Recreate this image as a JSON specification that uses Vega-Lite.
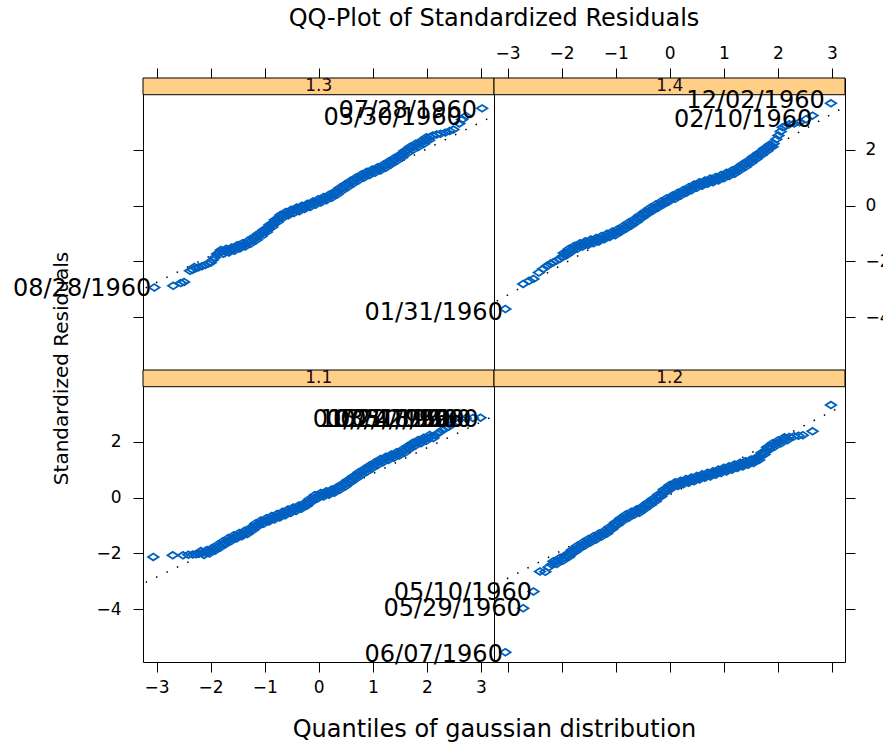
{
"$schema": "https://vega.github.io/schema/vega-lite/v6.json",
"padding": {"left": 12, "top": 6, "right": 5, "bottom": 5},
"title": {"text": "QQ-Plot of Standardized Residuals", "anchor": "middle", "frame": "group", "dx": 351, "fontSize": 24, "fontWeight": "normal", "font": "DejaVu Sans", "color": "#000", "offset": 13},
"config": {
  "font": "DejaVu Sans",
  "view": {"stroke": "#000", "strokeWidth": 1},
  "axis": {"domain": false, "grid": false, "tickColor": "#000", "tickSize": 10, "tickWidth": 1, "labelColor": "#000", "labelFontSize": 17, "labelFont": "DejaVu Sans", "titleFont": "DejaVu Sans", "titleFontWeight": "normal", "titleColor": "#000", "labelPadding": 10}
},
"datasets": {
  "strips": [
    {"p": "1.3", "x": -3.25, "x2": 3.24, "y": 3.98, "y2": 4.58},
    {"p": "1.4", "x": -3.25, "x2": 3.24, "y": 3.98, "y2": 4.58},
    {"p": "1.1", "x": -3.25, "x2": 3.24, "y": 3.98, "y2": 4.58},
    {"p": "1.2", "x": -3.25, "x2": 3.24, "y": 3.98, "y2": 4.58}
  ],
  "striptext": [
    {"p": "1.3", "x": 0, "y": 4.28},
    {"p": "1.4", "x": 0, "y": 4.28},
    {"p": "1.1", "x": 0, "y": 4.28},
    {"p": "1.2", "x": 0, "y": 4.28}
  ],
  "lines": [
    {"p": "1.3", "x": -3.2, "y": -2.95}, {"p": "1.3", "x": 3.2, "y": 3.19},
    {"p": "1.4", "x": -3.2, "y": -3.43}, {"p": "1.4", "x": 3.2, "y": 3.51},
    {"p": "1.1", "x": -3.2, "y": -3.04}, {"p": "1.1", "x": 3.2, "y": 2.90},
    {"p": "1.2", "x": -3.2, "y": -3.10}, {"p": "1.2", "x": 3.2, "y": 3.30}
  ],
  "labels": [
    {"p": "1.3", "x": -3.04, "y": -3.01, "label": "08/28/1960"},
    {"p": "1.3", "x": 2.98, "y": 3.40, "label": "07/28/1960"},
    {"p": "1.3", "x": 2.70, "y": 3.15, "label": "03/30/1960"},
    {"p": "1.4", "x": -3.03, "y": -3.86, "label": "01/31/1960"},
    {"p": "1.4", "x": 2.92, "y": 3.74, "label": "12/02/1960"},
    {"p": "1.4", "x": 2.69, "y": 3.09, "label": "02/10/1960"},
    {"p": "1.1", "x": 2.50, "y": 2.78, "label": "01/05/1960"},
    {"p": "1.1", "x": 2.63, "y": 2.78, "label": "10/24/1960"},
    {"p": "1.1", "x": 2.75, "y": 2.78, "label": "05/31/1960"},
    {"p": "1.1", "x": 2.88, "y": 2.78, "label": "03/22/1960"},
    {"p": "1.1", "x": 3.01, "y": 2.78, "label": "02/18/1960"},
    {"p": "1.2", "x": -3.03, "y": -5.65, "label": "06/07/1960"},
    {"p": "1.2", "x": -2.68, "y": -3.99, "label": "05/29/1960"},
    {"p": "1.2", "x": -2.49, "y": -3.42, "label": "05/10/1960"}
  ],
  "q13": [
    {"x":-3.04,"y":-2.94},{"x":-2.69,"y":-2.88},{"x":-2.55,"y":-2.78},{"x":-2.49,"y":-2.74},{"x":-2.38,"y":-2.34},{"x":-2.33,"y":-2.30},{"x":-2.27,"y":-2.25},{"x":-2.22,"y":-2.21},{"x":-2.16,"y":-2.18},{"x":-2.10,"y":-2.13},{"x":-2.05,"y":-2.09},{"x":-2.00,"y":-2.05},{"x":-1.96,"y":-1.95},{"x":-1.92,"y":-1.86},{"x":-1.88,"y":-1.74},{"x":-1.84,"y":-1.68},{"x":-1.79,"y":-1.66},{"x":-1.74,"y":-1.64},{"x":-1.69,"y":-1.62},{"x":-1.64,"y":-1.59},{"x":-1.59,"y":-1.56},{"x":-1.54,"y":-1.52},{"x":-1.49,"y":-1.48},{"x":-1.44,"y":-1.45},{"x":-1.39,"y":-1.41},{"x":-1.34,"y":-1.37},{"x":-1.29,"y":-1.32},{"x":-1.24,"y":-1.26},{"x":-1.19,"y":-1.19},{"x":-1.14,"y":-1.12},{"x":-1.09,"y":-1.05},{"x":-1.04,"y":-0.98},{"x":-0.99,"y":-0.91},{"x":-0.94,"y":-0.82},{"x":-0.89,"y":-0.73},{"x":-0.84,"y":-0.64},{"x":-0.79,"y":-0.55},{"x":-0.74,"y":-0.46},{"x":-0.69,"y":-0.38},{"x":-0.64,"y":-0.33},{"x":-0.59,"y":-0.29},{"x":-0.54,"y":-0.25},{"x":-0.49,"y":-0.21},{"x":-0.44,"y":-0.17},{"x":-0.39,"y":-0.13},{"x":-0.34,"y":-0.10},{"x":-0.29,"y":-0.06},{"x":-0.24,"y":-0.03},{"x":-0.19,"y":0.01},{"x":-0.14,"y":0.05},{"x":-0.09,"y":0.09},{"x":-0.04,"y":0.13},{"x":0.01,"y":0.17},{"x":0.06,"y":0.21},{"x":0.11,"y":0.25},{"x":0.16,"y":0.29},{"x":0.21,"y":0.33},{"x":0.26,"y":0.38},{"x":0.31,"y":0.45},{"x":0.36,"y":0.52},{"x":0.41,"y":0.59},{"x":0.46,"y":0.66},{"x":0.51,"y":0.72},{"x":0.56,"y":0.78},{"x":0.61,"y":0.84},{"x":0.66,"y":0.90},{"x":0.71,"y":0.96},{"x":0.76,"y":1.02},{"x":0.81,"y":1.07},{"x":0.86,"y":1.12},{"x":0.91,"y":1.16},{"x":0.96,"y":1.20},{"x":1.01,"y":1.24},{"x":1.06,"y":1.28},{"x":1.11,"y":1.32},{"x":1.16,"y":1.36},{"x":1.21,"y":1.41},{"x":1.26,"y":1.47},{"x":1.31,"y":1.53},{"x":1.36,"y":1.59},{"x":1.41,"y":1.65},{"x":1.46,"y":1.71},{"x":1.51,"y":1.77},{"x":1.56,"y":1.85},{"x":1.61,"y":1.93},{"x":1.66,"y":2.00},{"x":1.71,"y":2.06},{"x":1.76,"y":2.11},{"x":1.81,"y":2.16},{"x":1.86,"y":2.21},{"x":1.91,"y":2.26},{"x":1.96,"y":2.33},{"x":2.01,"y":2.40},{"x":2.06,"y":2.46},{"x":2.11,"y":2.52},{"x":2.18,"y":2.55},{"x":2.25,"y":2.58},{"x":2.34,"y":2.62},{"x":2.42,"y":2.68},{"x":2.49,"y":2.73},{"x":2.60,"y":2.95},{"x":2.65,"y":3.09},{"x":2.72,"y":3.22},{"x":3.02,"y":3.49},
    {"x":-2.30,"y":-2.20},{"x":-1.81,"y":-1.59},{"x":-1.76,"y":-1.73},{"x":-1.71,"y":-1.55},{"x":-1.66,"y":-1.68},{"x":-1.61,"y":-1.50},{"x":-1.56,"y":-1.62},{"x":-1.51,"y":-1.42},{"x":-1.46,"y":-1.54},{"x":-1.41,"y":-1.35},{"x":-1.36,"y":-1.47},{"x":-1.31,"y":-1.26},{"x":-1.26,"y":-1.37},{"x":-1.21,"y":-1.14},{"x":-1.16,"y":-1.24},{"x":-1.11,"y":-1.00},{"x":-1.06,"y":-1.10},{"x":-1.01,"y":-0.86},{"x":-0.96,"y":-0.95},{"x":-0.91,"y":-0.69},{"x":-0.86,"y":-0.77},{"x":-0.81,"y":-0.51},{"x":-0.76,"y":-0.59},{"x":-0.71,"y":-0.34},{"x":-0.66,"y":-0.44},{"x":-0.61,"y":-0.23},{"x":-0.56,"y":-0.35},{"x":-0.51,"y":-0.15},{"x":-0.46,"y":-0.27},{"x":-0.41,"y":-0.07},{"x":-0.36,"y":-0.20},{"x":-0.31,"y":0.00},{"x":-0.26,"y":-0.12},{"x":-0.21,"y":0.07},{"x":-0.16,"y":-0.05},{"x":-0.11,"y":0.15},{"x":-0.06,"y":0.03},{"x":-0.01,"y":0.23},{"x":0.04,"y":0.11},{"x":0.09,"y":0.31},{"x":0.14,"y":0.19},{"x":0.19,"y":0.39},{"x":0.24,"y":0.28},{"x":0.29,"y":0.50},{"x":0.34,"y":0.40},{"x":0.39,"y":0.64},{"x":0.44,"y":0.54},{"x":0.49,"y":0.77},{"x":0.54,"y":0.67},{"x":0.59,"y":0.89},{"x":0.64,"y":0.79},{"x":0.69,"y":1.01},{"x":0.74,"y":0.91},{"x":0.79,"y":1.12},{"x":0.84,"y":1.01},{"x":0.89,"y":1.22},{"x":0.94,"y":1.10},{"x":0.99,"y":1.30},{"x":1.04,"y":1.18},{"x":1.09,"y":1.38},{"x":1.14,"y":1.26},{"x":1.19,"y":1.47},{"x":1.24,"y":1.36},{"x":1.29,"y":1.58},{"x":1.34,"y":1.48},{"x":1.39,"y":1.70},{"x":1.44,"y":1.60},{"x":1.49,"y":1.82},{"x":1.54,"y":1.73},{"x":1.59,"y":1.97},{"x":1.64,"y":1.88},{"x":1.69,"y":2.11},{"x":1.74,"y":2.00},{"x":1.79,"y":2.22},{"x":1.84,"y":2.10},{"x":1.89,"y":2.32},{"x":1.94,"y":2.21},{"x":1.99,"y":2.45},{"x":2.04,"y":2.35}
  ],
  "q14": [
    {"x":-3.04,"y":-3.71},{"x":-2.71,"y":-2.81},{"x":-2.60,"y":-2.70},{"x":-2.52,"y":-2.63},{"x":-2.42,"y":-2.40},{"x":-2.34,"y":-2.27},{"x":-2.27,"y":-2.17},{"x":-2.21,"y":-2.09},{"x":-2.15,"y":-2.03},{"x":-2.09,"y":-1.97},{"x":-2.03,"y":-1.91},{"x":-1.98,"y":-1.82},{"x":-1.93,"y":-1.74},{"x":-1.88,"y":-1.66},{"x":-1.83,"y":-1.60},{"x":-1.78,"y":-1.54},{"x":-1.73,"y":-1.49},{"x":-1.68,"y":-1.45},{"x":-1.63,"y":-1.40},{"x":-1.58,"y":-1.37},{"x":-1.53,"y":-1.34},{"x":-1.48,"y":-1.31},{"x":-1.43,"y":-1.28},{"x":-1.38,"y":-1.25},{"x":-1.33,"y":-1.22},{"x":-1.28,"y":-1.19},{"x":-1.23,"y":-1.15},{"x":-1.18,"y":-1.11},{"x":-1.13,"y":-1.07},{"x":-1.08,"y":-1.03},{"x":-1.03,"y":-0.99},{"x":-0.98,"y":-0.96},{"x":-0.93,"y":-0.90},{"x":-0.88,"y":-0.84},{"x":-0.83,"y":-0.78},{"x":-0.78,"y":-0.72},{"x":-0.73,"y":-0.66},{"x":-0.68,"y":-0.60},{"x":-0.63,"y":-0.53},{"x":-0.58,"y":-0.46},{"x":-0.53,"y":-0.39},{"x":-0.48,"y":-0.32},{"x":-0.43,"y":-0.25},{"x":-0.38,"y":-0.19},{"x":-0.33,"y":-0.13},{"x":-0.28,"y":-0.07},{"x":-0.23,"y":-0.02},{"x":-0.18,"y":0.04},{"x":-0.13,"y":0.10},{"x":-0.08,"y":0.15},{"x":-0.03,"y":0.21},{"x":0.02,"y":0.26},{"x":0.07,"y":0.30},{"x":0.12,"y":0.35},{"x":0.17,"y":0.40},{"x":0.22,"y":0.45},{"x":0.27,"y":0.50},{"x":0.32,"y":0.55},{"x":0.37,"y":0.60},{"x":0.42,"y":0.65},{"x":0.47,"y":0.70},{"x":0.52,"y":0.74},{"x":0.57,"y":0.77},{"x":0.62,"y":0.80},{"x":0.67,"y":0.84},{"x":0.72,"y":0.87},{"x":0.77,"y":0.90},{"x":0.82,"y":0.93},{"x":0.87,"y":0.96},{"x":0.92,"y":1.00},{"x":0.97,"y":1.04},{"x":1.02,"y":1.08},{"x":1.07,"y":1.12},{"x":1.12,"y":1.16},{"x":1.17,"y":1.19},{"x":1.22,"y":1.25},{"x":1.27,"y":1.31},{"x":1.32,"y":1.38},{"x":1.37,"y":1.44},{"x":1.42,"y":1.50},{"x":1.47,"y":1.57},{"x":1.52,"y":1.64},{"x":1.57,"y":1.71},{"x":1.62,"y":1.78},{"x":1.67,"y":1.86},{"x":1.72,"y":1.93},{"x":1.77,"y":2.00},{"x":1.82,"y":2.07},{"x":1.87,"y":2.14},{"x":1.92,"y":2.23},{"x":1.97,"y":2.38},{"x":2.01,"y":2.52},{"x":2.05,"y":2.66},{"x":2.09,"y":2.81},{"x":2.15,"y":2.87},{"x":2.21,"y":2.92},{"x":2.30,"y":2.95},{"x":2.40,"y":2.99},{"x":2.52,"y":3.10},{"x":2.64,"y":3.23},{"x":2.98,"y":3.67},
    {"x":-1.96,"y":-1.70},{"x":-1.91,"y":-1.78},{"x":-1.86,"y":-1.55},{"x":-1.81,"y":-1.65},{"x":-1.76,"y":-1.44},{"x":-1.71,"y":-1.55},{"x":-1.66,"y":-1.35},{"x":-1.61,"y":-1.47},{"x":-1.56,"y":-1.28},{"x":-1.51,"y":-1.41},{"x":-1.46,"y":-1.22},{"x":-1.41,"y":-1.35},{"x":-1.36,"y":-1.16},{"x":-1.31,"y":-1.29},{"x":-1.26,"y":-1.09},{"x":-1.21,"y":-1.21},{"x":-1.16,"y":-1.01},{"x":-1.11,"y":-1.13},{"x":-1.06,"y":-0.93},{"x":-1.01,"y":-1.06},{"x":-0.96,"y":-0.85},{"x":-0.91,"y":-0.95},{"x":-0.86,"y":-0.73},{"x":-0.81,"y":-0.83},{"x":-0.76,"y":-0.61},{"x":-0.71,"y":-0.71},{"x":-0.66,"y":-0.49},{"x":-0.61,"y":-0.58},{"x":-0.56,"y":-0.35},{"x":-0.51,"y":-0.44},{"x":-0.46,"y":-0.21},{"x":-0.41,"y":-0.30},{"x":-0.36,"y":-0.08},{"x":-0.31,"y":-0.18},{"x":-0.26,"y":0.04},{"x":-0.21,"y":-0.07},{"x":-0.16,"y":0.15},{"x":-0.11,"y":0.05},{"x":-0.06,"y":0.26},{"x":-0.01,"y":0.16},{"x":0.05,"y":0.36},{"x":0.10,"y":0.25},{"x":0.15,"y":0.46},{"x":0.20,"y":0.35},{"x":0.25,"y":0.56},{"x":0.30,"y":0.45},{"x":0.35,"y":0.66},{"x":0.40,"y":0.55},{"x":0.45,"y":0.76},{"x":0.50,"y":0.64},{"x":0.55,"y":0.84},{"x":0.60,"y":0.71},{"x":0.65,"y":0.90},{"x":0.70,"y":0.78},{"x":0.75,"y":0.97},{"x":0.80,"y":0.84},{"x":0.85,"y":1.03},{"x":0.90,"y":0.90},{"x":0.95,"y":1.10},{"x":1.00,"y":0.98},{"x":1.05,"y":1.18},{"x":1.10,"y":1.06},{"x":1.15,"y":1.26},{"x":1.20,"y":1.14},{"x":1.25,"y":1.36},{"x":1.30,"y":1.27},{"x":1.35,"y":1.49},{"x":1.40,"y":1.39},{"x":1.45,"y":1.62},{"x":1.50,"y":1.53},{"x":1.55,"y":1.76},{"x":1.60,"y":1.67},{"x":1.65,"y":1.90},{"x":1.70,"y":1.82},{"x":1.75,"y":2.05},{"x":1.80,"y":1.96},{"x":1.85,"y":2.19},{"x":1.90,"y":2.11}
  ],
  "q11": [
    {"x":-3.06,"y":-2.13},{"x":-2.70,"y":-2.07},{"x":-2.51,"y":-2.07},{"x":-2.41,"y":-2.05},{"x":-2.33,"y":-2.04},{"x":-2.27,"y":-2.03},{"x":-2.21,"y":-2.01},{"x":-2.15,"y":-1.99},{"x":-2.09,"y":-1.97},{"x":-2.04,"y":-1.95},{"x":-1.99,"y":-1.91},{"x":-1.94,"y":-1.86},{"x":-1.89,"y":-1.80},{"x":-1.84,"y":-1.74},{"x":-1.79,"y":-1.68},{"x":-1.74,"y":-1.62},{"x":-1.69,"y":-1.56},{"x":-1.64,"y":-1.50},{"x":-1.59,"y":-1.45},{"x":-1.54,"y":-1.41},{"x":-1.49,"y":-1.37},{"x":-1.44,"y":-1.33},{"x":-1.39,"y":-1.29},{"x":-1.34,"y":-1.25},{"x":-1.29,"y":-1.21},{"x":-1.24,"y":-1.13},{"x":-1.19,"y":-1.05},{"x":-1.14,"y":-0.97},{"x":-1.09,"y":-0.92},{"x":-1.04,"y":-0.88},{"x":-0.99,"y":-0.84},{"x":-0.94,"y":-0.80},{"x":-0.89,"y":-0.76},{"x":-0.84,"y":-0.72},{"x":-0.79,"y":-0.69},{"x":-0.74,"y":-0.65},{"x":-0.69,"y":-0.61},{"x":-0.64,"y":-0.57},{"x":-0.59,"y":-0.53},{"x":-0.54,"y":-0.49},{"x":-0.49,"y":-0.45},{"x":-0.44,"y":-0.41},{"x":-0.39,"y":-0.38},{"x":-0.34,"y":-0.34},{"x":-0.29,"y":-0.30},{"x":-0.24,"y":-0.25},{"x":-0.19,"y":-0.17},{"x":-0.14,"y":-0.09},{"x":-0.09,"y":-0.02},{"x":-0.04,"y":0.04},{"x":0.01,"y":0.07},{"x":0.06,"y":0.10},{"x":0.11,"y":0.13},{"x":0.16,"y":0.16},{"x":0.21,"y":0.19},{"x":0.26,"y":0.22},{"x":0.31,"y":0.27},{"x":0.36,"y":0.33},{"x":0.41,"y":0.39},{"x":0.46,"y":0.45},{"x":0.51,"y":0.51},{"x":0.56,"y":0.58},{"x":0.61,"y":0.65},{"x":0.66,"y":0.72},{"x":0.71,"y":0.79},{"x":0.76,"y":0.86},{"x":0.81,"y":0.92},{"x":0.86,"y":0.98},{"x":0.91,"y":1.04},{"x":0.96,"y":1.10},{"x":1.01,"y":1.16},{"x":1.06,"y":1.22},{"x":1.11,"y":1.28},{"x":1.16,"y":1.33},{"x":1.21,"y":1.37},{"x":1.26,"y":1.41},{"x":1.31,"y":1.45},{"x":1.36,"y":1.49},{"x":1.41,"y":1.53},{"x":1.46,"y":1.57},{"x":1.51,"y":1.61},{"x":1.56,"y":1.66},{"x":1.61,"y":1.72},{"x":1.66,"y":1.79},{"x":1.71,"y":1.86},{"x":1.76,"y":1.92},{"x":1.81,"y":1.97},{"x":1.86,"y":2.01},{"x":1.91,"y":2.05},{"x":1.96,"y":2.09},{"x":2.02,"y":2.14},{"x":2.08,"y":2.19},{"x":2.15,"y":2.24},{"x":2.22,"y":2.33},{"x":2.28,"y":2.42},{"x":2.34,"y":2.48},{"x":2.40,"y":2.54},{"x":2.46,"y":2.62},{"x":2.52,"y":2.84},{"x":2.62,"y":2.84},{"x":2.72,"y":2.85},{"x":2.85,"y":2.86},{"x":2.99,"y":2.87},
    {"x":-2.18,"y":-1.92},{"x":-2.12,"y":-2.06},{"x":-2.07,"y":-1.88},{"x":-2.02,"y":-2.01},{"x":-1.97,"y":-1.81},{"x":-1.92,"y":-1.91},{"x":-1.87,"y":-1.69},{"x":-1.82,"y":-1.79},{"x":-1.77,"y":-1.57},{"x":-1.72,"y":-1.67},{"x":-1.67,"y":-1.45},{"x":-1.62,"y":-1.56},{"x":-1.57,"y":-1.35},{"x":-1.52,"y":-1.47},{"x":-1.47,"y":-1.27},{"x":-1.42,"y":-1.39},{"x":-1.37,"y":-1.19},{"x":-1.32,"y":-1.31},{"x":-1.27,"y":-1.09},{"x":-1.22,"y":-1.17},{"x":-1.17,"y":-0.93},{"x":-1.12,"y":-1.03},{"x":-1.07,"y":-0.82},{"x":-1.02,"y":-0.94},{"x":-0.97,"y":-0.74},{"x":-0.92,"y":-0.86},{"x":-0.87,"y":-0.66},{"x":-0.82,"y":-0.79},{"x":-0.77,"y":-0.59},{"x":-0.72,"y":-0.71},{"x":-0.67,"y":-0.51},{"x":-0.62,"y":-0.63},{"x":-0.57,"y":-0.43},{"x":-0.52,"y":-0.55},{"x":-0.47,"y":-0.35},{"x":-0.42,"y":-0.48},{"x":-0.37,"y":-0.28},{"x":-0.32,"y":-0.40},{"x":-0.27,"y":-0.20},{"x":-0.22,"y":-0.29},{"x":-0.17,"y":-0.05},{"x":-0.12,"y":-0.14},{"x":-0.07,"y":0.09},{"x":-0.02,"y":-0.03},{"x":0.04,"y":0.17},{"x":0.09,"y":0.04},{"x":0.14,"y":0.23},{"x":0.19,"y":0.10},{"x":0.24,"y":0.29},{"x":0.29,"y":0.17},{"x":0.34,"y":0.38},{"x":0.39,"y":0.28},{"x":0.44,"y":0.50},{"x":0.49,"y":0.40},{"x":0.54,"y":0.63},{"x":0.59,"y":0.54},{"x":0.64,"y":0.77},{"x":0.69,"y":0.68},{"x":0.74,"y":0.91},{"x":0.79,"y":0.81},{"x":0.84,"y":1.03},{"x":0.89,"y":0.93},{"x":0.94,"y":1.15},{"x":0.99,"y":1.05},{"x":1.04,"y":1.27},{"x":1.09,"y":1.17},{"x":1.14,"y":1.39},{"x":1.19,"y":1.27},{"x":1.24,"y":1.47},{"x":1.29,"y":1.35},{"x":1.34,"y":1.55},{"x":1.39,"y":1.43},{"x":1.44,"y":1.63},{"x":1.49,"y":1.51},{"x":1.54,"y":1.72},{"x":1.59,"y":1.61},{"x":1.64,"y":1.84},{"x":1.69,"y":1.75},{"x":1.74,"y":1.97},{"x":1.79,"y":1.87},{"x":1.84,"y":2.07},{"x":1.89,"y":1.95},{"x":1.94,"y":2.15},{"x":1.99,"y":2.04},{"x":2.05,"y":2.25},{"x":2.12,"y":2.14}
  ],
  "q12": [
    {"x":-3.04,"y":-5.55},{"x":-2.71,"y":-3.97},{"x":-2.52,"y":-3.37},{"x":-2.40,"y":-2.65},{"x":-2.30,"y":-2.66},{"x":-2.24,"y":-2.50},{"x":-2.18,"y":-2.40},{"x":-2.12,"y":-2.32},{"x":-2.06,"y":-2.27},{"x":-2.00,"y":-2.21},{"x":-1.94,"y":-2.15},{"x":-1.88,"y":-2.08},{"x":-1.83,"y":-2.00},{"x":-1.78,"y":-1.92},{"x":-1.73,"y":-1.84},{"x":-1.68,"y":-1.78},{"x":-1.63,"y":-1.72},{"x":-1.58,"y":-1.66},{"x":-1.53,"y":-1.60},{"x":-1.48,"y":-1.54},{"x":-1.43,"y":-1.49},{"x":-1.38,"y":-1.44},{"x":-1.33,"y":-1.39},{"x":-1.28,"y":-1.34},{"x":-1.23,"y":-1.29},{"x":-1.18,"y":-1.24},{"x":-1.13,"y":-1.17},{"x":-1.08,"y":-1.09},{"x":-1.03,"y":-1.01},{"x":-0.98,"y":-0.93},{"x":-0.93,"y":-0.85},{"x":-0.88,"y":-0.78},{"x":-0.83,"y":-0.72},{"x":-0.78,"y":-0.66},{"x":-0.73,"y":-0.61},{"x":-0.68,"y":-0.56},{"x":-0.63,"y":-0.52},{"x":-0.58,"y":-0.48},{"x":-0.53,"y":-0.43},{"x":-0.48,"y":-0.36},{"x":-0.43,"y":-0.29},{"x":-0.38,"y":-0.22},{"x":-0.33,"y":-0.15},{"x":-0.28,"y":-0.08},{"x":-0.23,"y":-0.01},{"x":-0.18,"y":0.07},{"x":-0.13,"y":0.16},{"x":-0.08,"y":0.25},{"x":-0.03,"y":0.33},{"x":0.02,"y":0.40},{"x":0.07,"y":0.45},{"x":0.12,"y":0.48},{"x":0.17,"y":0.51},{"x":0.22,"y":0.54},{"x":0.27,"y":0.57},{"x":0.32,"y":0.60},{"x":0.37,"y":0.62},{"x":0.42,"y":0.65},{"x":0.47,"y":0.68},{"x":0.52,"y":0.71},{"x":0.57,"y":0.74},{"x":0.62,"y":0.77},{"x":0.67,"y":0.80},{"x":0.72,"y":0.82},{"x":0.77,"y":0.85},{"x":0.82,"y":0.88},{"x":0.87,"y":0.91},{"x":0.92,"y":0.94},{"x":0.97,"y":0.97},{"x":1.02,"y":1.00},{"x":1.07,"y":1.03},{"x":1.12,"y":1.06},{"x":1.17,"y":1.09},{"x":1.22,"y":1.12},{"x":1.27,"y":1.15},{"x":1.32,"y":1.18},{"x":1.37,"y":1.21},{"x":1.42,"y":1.24},{"x":1.47,"y":1.27},{"x":1.52,"y":1.30},{"x":1.57,"y":1.33},{"x":1.62,"y":1.38},{"x":1.67,"y":1.48},{"x":1.72,"y":1.58},{"x":1.77,"y":1.68},{"x":1.82,"y":1.77},{"x":1.87,"y":1.84},{"x":1.92,"y":1.90},{"x":1.97,"y":1.94},{"x":2.03,"y":2.00},{"x":2.09,"y":2.06},{"x":2.15,"y":2.12},{"x":2.21,"y":2.18},{"x":2.30,"y":2.20},{"x":2.38,"y":2.22},{"x":2.46,"y":2.24},{"x":2.64,"y":2.38},{"x":2.98,"y":3.32},
    {"x":-2.15,"y":-2.28},{"x":-2.09,"y":-2.38},{"x":-2.03,"y":-2.16},{"x":-1.97,"y":-2.26},{"x":-1.91,"y":-2.04},{"x":-1.86,"y":-2.12},{"x":-1.81,"y":-1.88},{"x":-1.76,"y":-1.96},{"x":-1.71,"y":-1.73},{"x":-1.66,"y":-1.83},{"x":-1.61,"y":-1.61},{"x":-1.56,"y":-1.71},{"x":-1.51,"y":-1.49},{"x":-1.46,"y":-1.60},{"x":-1.41,"y":-1.39},{"x":-1.36,"y":-1.50},{"x":-1.31,"y":-1.29},{"x":-1.26,"y":-1.40},{"x":-1.21,"y":-1.19},{"x":-1.16,"y":-1.29},{"x":-1.11,"y":-1.05},{"x":-1.06,"y":-1.13},{"x":-1.01,"y":-0.89},{"x":-0.96,"y":-0.97},{"x":-0.91,"y":-0.74},{"x":-0.86,"y":-0.83},{"x":-0.81,"y":-0.61},{"x":-0.76,"y":-0.72},{"x":-0.71,"y":-0.51},{"x":-0.66,"y":-0.62},{"x":-0.61,"y":-0.42},{"x":-0.56,"y":-0.54},{"x":-0.51,"y":-0.32},{"x":-0.46,"y":-0.41},{"x":-0.41,"y":-0.18},{"x":-0.36,"y":-0.27},{"x":-0.31,"y":-0.04},{"x":-0.26,"y":-0.13},{"x":-0.21,"y":0.11},{"x":-0.16,"y":0.04},{"x":-0.11,"y":0.29},{"x":-0.06,"y":0.21},{"x":0.00,"y":0.45},{"x":0.05,"y":0.35},{"x":0.10,"y":0.55},{"x":0.15,"y":0.42},{"x":0.20,"y":0.61},{"x":0.25,"y":0.48},{"x":0.30,"y":0.67},{"x":0.35,"y":0.53},{"x":0.40,"y":0.72},{"x":0.45,"y":0.59},{"x":0.50,"y":0.78},{"x":0.55,"y":0.65},{"x":0.60,"y":0.84},{"x":0.65,"y":0.71},{"x":0.70,"y":0.89},{"x":0.75,"y":0.76},{"x":0.80,"y":0.95},{"x":0.85,"y":0.82},{"x":0.90,"y":1.01},{"x":0.95,"y":0.88},{"x":1.00,"y":1.07},{"x":1.05,"y":0.94},{"x":1.10,"y":1.13},{"x":1.15,"y":1.00},{"x":1.20,"y":1.19},{"x":1.25,"y":1.06},{"x":1.30,"y":1.25},{"x":1.35,"y":1.12},{"x":1.40,"y":1.31},{"x":1.45,"y":1.18},{"x":1.50,"y":1.37},{"x":1.55,"y":1.24},{"x":1.60,"y":1.44},{"x":1.65,"y":1.35},{"x":1.70,"y":1.61},{"x":1.75,"y":1.55},{"x":1.80,"y":1.81},{"x":1.85,"y":1.73},{"x":1.90,"y":1.95},{"x":1.95,"y":1.84},{"x":2.00,"y":2.05},{"x":2.06,"y":1.95},{"x":2.12,"y":2.17},{"x":2.18,"y":2.07}
  ]
},
"columns": 2,
"spacing": 0,
"bounds": "flush",
"concat": [
  {
    "width": 351, "height": 292,
    "encoding": {
      "x": {"field": "x", "type": "quantitative", "scale": {"domain": [-3.25, 3.24], "nice": false, "zero": false}, "axis": {"orient": "top", "values": [-3,-2,-1,0,1,2,3], "labels": false, "title": null}},
      "y": {"field": "y", "type": "quantitative", "scale": {"domain": [-5.9, 4.58], "nice": false, "zero": false}, "axis": {"orient": "left", "values": [-4,-2,0,2], "labels": false, "title": null}}
    },
    "layer": [
      {"data": {"name": "strips"}, "transform": [{"filter": "datum.p == '1.3'"}], "mark": {"type": "rect", "fill": "#FFCF87", "stroke": "#000", "strokeWidth": 1}, "encoding": {"x2": {"field": "x2"}, "y2": {"field": "y2"}}},
      {"data": {"name": "striptext"}, "transform": [{"filter": "datum.p == '1.3'"}], "mark": {"type": "text", "fontSize": 17, "color": "#1a0a14", "baseline": "middle"}, "encoding": {"text": {"field": "p"}}},
      {"data": {"name": "lines"}, "transform": [{"filter": "datum.p == '1.3'"}], "mark": {"type": "line", "strokeDash": [1.5, 10], "strokeWidth": 1.5, "color": "#000"}},
      {"data": {"name": "q13"}, "mark": {"type": "point", "shape": "M-1,0L0,-0.65L1,0L0,0.65Z", "filled": false, "size": 110, "strokeWidth": 1.8, "color": "#0060C0", "opacity": 1}},
      {"data": {"name": "labels"}, "transform": [{"filter": "datum.p == '1.3'"}], "mark": {"type": "text", "align": "right", "baseline": "middle", "dx": -3, "fontSize": 24, "color": "#000"}, "encoding": {"text": {"field": "label"}}}
    ]
  },
  {
    "width": 351, "height": 292,
    "encoding": {
      "x": {"field": "x", "type": "quantitative", "scale": {"domain": [-3.25, 3.24], "nice": false, "zero": false}, "axis": {"orient": "top", "values": [-3,-2,-1,0,1,2,3], "labelPadding": 6, "title": null}},
      "y": {"field": "y", "type": "quantitative", "scale": {"domain": [-5.9, 4.58], "nice": false, "zero": false}, "axis": {"orient": "right", "values": [-4,-2,0,2], "title": null}}
    },
    "layer": [
      {"data": {"name": "strips"}, "transform": [{"filter": "datum.p == '1.4'"}], "mark": {"type": "rect", "fill": "#FFCF87", "stroke": "#000", "strokeWidth": 1}, "encoding": {"x2": {"field": "x2"}, "y2": {"field": "y2"}}},
      {"data": {"name": "striptext"}, "transform": [{"filter": "datum.p == '1.4'"}], "mark": {"type": "text", "fontSize": 17, "color": "#1a0a14", "baseline": "middle"}, "encoding": {"text": {"field": "p"}}},
      {"data": {"name": "lines"}, "transform": [{"filter": "datum.p == '1.4'"}], "mark": {"type": "line", "strokeDash": [1.5, 10], "strokeWidth": 1.5, "color": "#000"}},
      {"data": {"name": "q14"}, "mark": {"type": "point", "shape": "M-1,0L0,-0.65L1,0L0,0.65Z", "filled": false, "size": 110, "strokeWidth": 1.8, "color": "#0060C0", "opacity": 1}},
      {"data": {"name": "labels"}, "transform": [{"filter": "datum.p == '1.4'"}], "mark": {"type": "text", "align": "right", "baseline": "middle", "dx": -3, "fontSize": 24, "color": "#000"}, "encoding": {"text": {"field": "label"}}}
    ]
  },
  {
    "width": 351, "height": 292,
    "encoding": {
      "x": {"field": "x", "type": "quantitative", "scale": {"domain": [-3.25, 3.24], "nice": false, "zero": false}, "axis": {"orient": "bottom", "values": [-3,-2,-1,0,1,2,3], "labelPadding": 7, "title": "Quantiles of gaussian distribution", "titleFontSize": 24, "titleX": 351, "titlePadding": 22}},
      "y": {"field": "y", "type": "quantitative", "scale": {"domain": [-5.9, 4.58], "nice": false, "zero": false}, "axis": {"orient": "left", "values": [-4,-2,0,2], "labelPadding": 12, "title": "Standardized Residuals", "titleFontSize": 20, "titleY": -2, "titlePadding": 24}}
    },
    "layer": [
      {"data": {"name": "strips"}, "transform": [{"filter": "datum.p == '1.1'"}], "mark": {"type": "rect", "fill": "#FFCF87", "stroke": "#000", "strokeWidth": 1}, "encoding": {"x2": {"field": "x2"}, "y2": {"field": "y2"}}},
      {"data": {"name": "striptext"}, "transform": [{"filter": "datum.p == '1.1'"}], "mark": {"type": "text", "fontSize": 17, "color": "#1a0a14", "baseline": "middle"}, "encoding": {"text": {"field": "p"}}},
      {"data": {"name": "lines"}, "transform": [{"filter": "datum.p == '1.1'"}], "mark": {"type": "line", "strokeDash": [1.5, 10], "strokeWidth": 1.5, "color": "#000"}},
      {"data": {"name": "q11"}, "mark": {"type": "point", "shape": "M-1,0L0,-0.65L1,0L0,0.65Z", "filled": false, "size": 110, "strokeWidth": 1.8, "color": "#0060C0", "opacity": 1}},
      {"data": {"name": "labels"}, "transform": [{"filter": "datum.p == '1.1'"}], "mark": {"type": "text", "align": "right", "baseline": "middle", "dx": -3, "fontSize": 24, "color": "#000"}, "encoding": {"text": {"field": "label"}}}
    ]
  },
  {
    "width": 351, "height": 292,
    "encoding": {
      "x": {"field": "x", "type": "quantitative", "scale": {"domain": [-3.25, 3.24], "nice": false, "zero": false}, "axis": {"orient": "bottom", "values": [-3,-2,-1,0,1,2,3], "labels": false, "title": null}},
      "y": {"field": "y", "type": "quantitative", "scale": {"domain": [-5.9, 4.58], "nice": false, "zero": false}, "axis": {"orient": "right", "values": [-4,-2,0,2], "labels": false, "title": null}}
    },
    "layer": [
      {"data": {"name": "strips"}, "transform": [{"filter": "datum.p == '1.2'"}], "mark": {"type": "rect", "fill": "#FFCF87", "stroke": "#000", "strokeWidth": 1}, "encoding": {"x2": {"field": "x2"}, "y2": {"field": "y2"}}},
      {"data": {"name": "striptext"}, "transform": [{"filter": "datum.p == '1.2'"}], "mark": {"type": "text", "fontSize": 17, "color": "#1a0a14", "baseline": "middle"}, "encoding": {"text": {"field": "p"}}},
      {"data": {"name": "lines"}, "transform": [{"filter": "datum.p == '1.2'"}], "mark": {"type": "line", "strokeDash": [1.5, 10], "strokeWidth": 1.5, "color": "#000"}},
      {"data": {"name": "q12"}, "mark": {"type": "point", "shape": "M-1,0L0,-0.65L1,0L0,0.65Z", "filled": false, "size": 110, "strokeWidth": 1.8, "color": "#0060C0", "opacity": 1}},
      {"data": {"name": "labels"}, "transform": [{"filter": "datum.p == '1.2'"}], "mark": {"type": "text", "align": "right", "baseline": "middle", "dx": -3, "fontSize": 24, "color": "#000"}, "encoding": {"text": {"field": "label"}}}
    ]
  }
]
}
